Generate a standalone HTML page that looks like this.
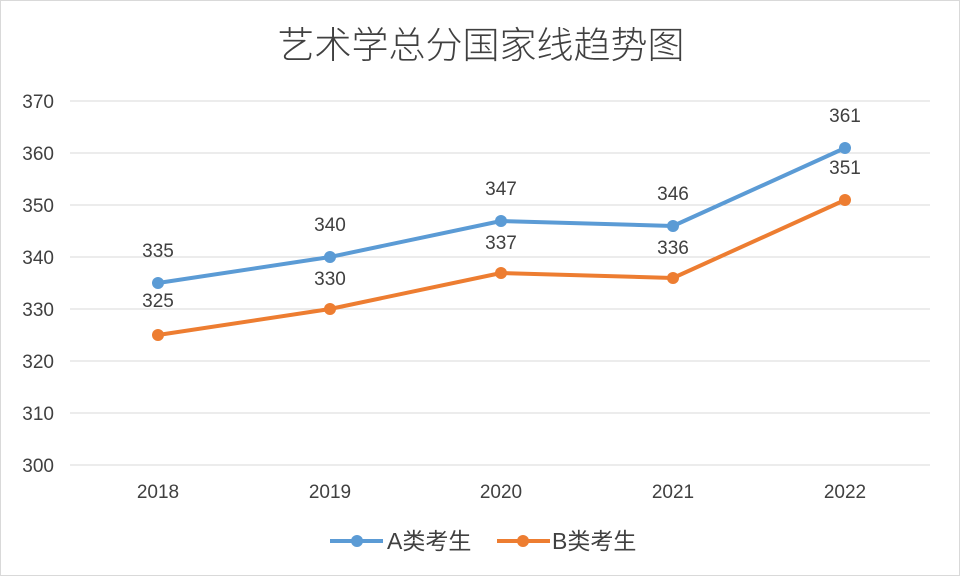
<!DOCTYPE html>
<html><head><meta charset="utf-8"><style>
body{margin:0;background:#fff}
svg{display:block}
text{font-family:"Liberation Sans","Noto Sans CJK SC",sans-serif}
</style></head><body>
<svg width="960" height="576" viewBox="0 0 960 576">
<rect x="0.5" y="0.5" width="959" height="575" fill="#fff" stroke="#d9d9d9"/>
<text x="481" y="58" text-anchor="middle" font-size="37" fill="#404040" font-family="Noto Sans CJK SC, sans-serif" font-weight="300">艺术学总分国家线趋势图</text>
<g stroke="#d9d9d9" stroke-width="1">
<line x1="70" x2="930" y1="101" y2="101"/><line x1="70" x2="930" y1="153" y2="153"/>
<line x1="70" x2="930" y1="205" y2="205"/><line x1="70" x2="930" y1="257" y2="257"/>
<line x1="70" x2="930" y1="309" y2="309"/><line x1="70" x2="930" y1="361" y2="361"/>
<line x1="70" x2="930" y1="413" y2="413"/><line x1="70" x2="930" y1="465" y2="465"/>
</g>
<g font-size="19" fill="#404040" text-anchor="end">
<text x="54" y="108">370</text><text x="54" y="160">360</text><text x="54" y="212">350</text>
<text x="54" y="264">340</text><text x="54" y="316">330</text><text x="54" y="368">320</text>
<text x="54" y="420">310</text><text x="54" y="472">300</text>
</g>
<g font-size="19" fill="#404040" text-anchor="middle">
<text x="158" y="498">2018</text><text x="330" y="498">2019</text><text x="501" y="498">2020</text>
<text x="673" y="498">2021</text><text x="845" y="498">2022</text>
</g>
<polyline points="158,283 330,257 501,221 673,226 845,148" fill="none" stroke="#5b9bd5" stroke-width="4" stroke-linejoin="round"/>
<polyline points="158,335 330,309 501,273 673,278 845,200" fill="none" stroke="#ed7d31" stroke-width="4" stroke-linejoin="round"/>
<g fill="#5b9bd5"><circle cx="158" cy="283" r="6"/><circle cx="330" cy="257" r="6"/><circle cx="501" cy="221" r="6"/><circle cx="673" cy="226" r="6"/><circle cx="845" cy="148" r="6"/></g>
<g fill="#ed7d31"><circle cx="158" cy="335" r="6"/><circle cx="330" cy="309" r="6"/><circle cx="501" cy="273" r="6"/><circle cx="673" cy="278" r="6"/><circle cx="845" cy="200" r="6"/></g>
<g font-size="19" fill="#404040" text-anchor="middle">
<text x="158" y="257">335</text><text x="330" y="231">340</text><text x="501" y="195">347</text><text x="673" y="200">346</text><text x="845" y="122">361</text>
<text x="158" y="307">325</text><text x="330" y="285">330</text><text x="501" y="249">337</text><text x="673" y="254">336</text><text x="845" y="174">351</text>
</g>
<line x1="330" x2="383" y1="541" y2="541" stroke="#5b9bd5" stroke-width="4"/><circle cx="357" cy="541" r="6" fill="#5b9bd5"/>
<text x="387" y="549" font-size="23" fill="#404040">A类考生</text>
<line x1="497" x2="550" y1="541" y2="541" stroke="#ed7d31" stroke-width="4"/><circle cx="523" cy="541" r="6" fill="#ed7d31"/>
<text x="552" y="549" font-size="23" fill="#404040">B类考生</text>
</svg>
</body></html>
